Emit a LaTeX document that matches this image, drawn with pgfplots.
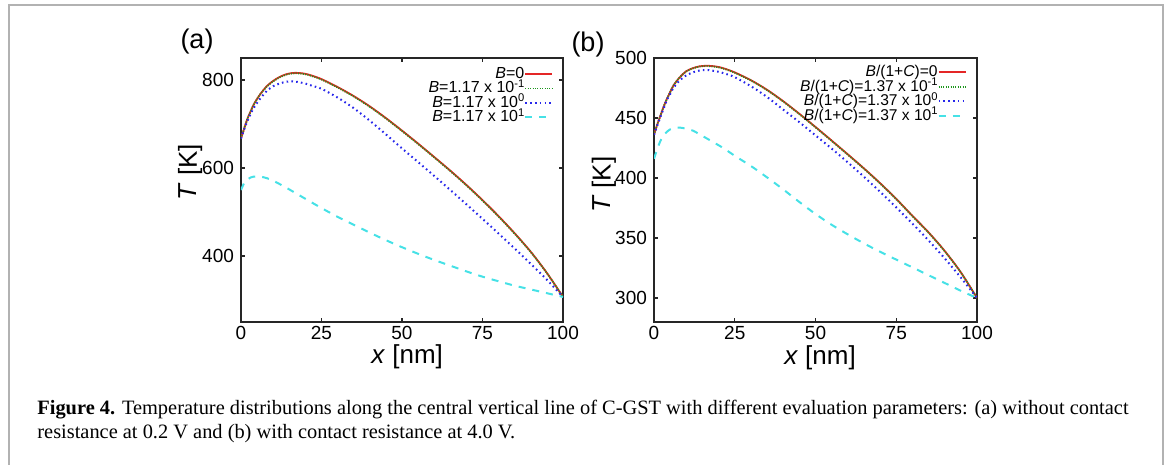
\documentclass[border=0pt]{standalone}
\usepackage{fontspec}
\setmainfont{Liberation Serif}
\setsansfont{Liberation Sans}
\usepackage{pgfplots}
\pgfplotsset{compat=1.18}
\usepackage{pgfplotstable}

\definecolor{gpred}{RGB}{228,38,38}
\definecolor{gpgreen}{RGB}{30,150,30}
\definecolor{gpblue}{RGB}{40,40,235}
\definecolor{gpcyan}{RGB}{70,225,230}

\newcommand{\supr}[1]{\raisebox{2.6pt}{\fontsize{5.6}{5.6}\selectfont #1}}

\pgfplotstableread{
x r g b c
0 667 667 667 550
1 690 690 688 566
2 712 712 707 574
3 729 729 723 578.5
4 745 745 737 580.5
5 757 757 748 581
6 768 768 758 580.5
8 786 785 775 577
10 798 797 786 571
12 807 806 792 563.5
14 813 812 796 555.5
16 816 815 797 547
18 816 815 795 538.5
20 814 813 792 530
22 810 809 787 521.5
25 802 801 780 509
30 784 783 760 489
35 763.5 762.5 736 471
40 740 739 707.5 453
45 713.5 712.5 676.5 436
50 685 684 644.5 420
55 655.5 654.5 613.5 405
60 625 624 582 391
65 594 593 550 378
70 561.5 560.5 517.5 365
75 527 526 484.5 353
80 490.5 489.5 451 342.5
85 451.5 450.5 417 332.5
90 409.5 408.8 382 324
95 361.5 361 346 315.5
100 307 307 307 307
}\dataA

\pgfplotstableread{
x r g b c
0 436 436 436 416
1 444.5 444.5 443.5 424
2 452 452 451 431
3 459.5 459.5 458 435.5
4 466 466 465 438.5
5 471.5 471.5 470 440.5
6 477 477 475 441.5
8 484 484 481.5 442
10 489 488.8 485.5 441
12 491.5 491.3 488 439.5
14 493 492.8 489.5 436.6
16 493.5 493.3 490 433.5
18 493.3 493 489.5 430.4
20 492.5 492.2 488.5 427.3
22 491 490.7 487 424
25 488 487.7 484 418.5
30 481.5 481.2 476.5 410
35 473.5 473.2 467.5 400.5
40 464 463.7 457 390.5
45 453.5 453.2 446.5 380
50 442.5 442.2 435.5 370
55 431.2 430.9 424.5 361
60 419.7 419.4 413 353
65 408 407.7 401 345.5
70 395.7 395.4 388.5 338.5
75 382.6 382.3 375.5 332
80 368.5 368.2 362 325.5
85 354.7 354.4 348 319
90 339.2 339 333 312.5
95 321.4 321.2 317 306
100 300 300 300 300
}\dataB

\pgfplotsset{
  gp/.style={
    scale only axis, height=132pt,
    xmin=0, xmax=100, xtick={0,25,50,75,100},
    tick align=inside, major tick length=2.2pt,
    axis line style={line width=0.6pt, black!85},
    every tick/.style={black!85, line width=0.6pt},
    tick label style={font=\fontsize{9.5}{9.5}\selectfont\sffamily},
    xticklabel style={yshift=1.5pt},
    /pgf/number format/assume math mode=true,
    legend cell align=right, legend plot pos=right,
    legend image code/.code={\draw[##1] (2.5pt,0pt) -- (16pt,0pt);},
    legend style={anchor=north east, draw=none, fill=none, inner sep=0pt, outer sep=0pt,
      row sep=0.05pt,
      nodes={inner sep=0pt, text height=5.7pt, text depth=1.5pt}},
  },
  pr/.style={gpred, line width=0.9pt, smooth},
  pg/.style={gpgreen, line width=0.9pt, dash pattern=on 0.5pt off 0.7pt, smooth},
  pb/.style={gpblue, line width=1pt, dash pattern=on 0.8pt off 1.6pt, smooth},
  pc/.style={gpcyan, line width=1pt, dash pattern=on 3.5pt off 3.5pt, smooth},
}
\newcommand{\lblfont}{\fontsize{13}{13}\selectfont\sffamily}

\begin{document}
\begin{tikzpicture}
\useasboundingbox (0,0) rectangle (584pt,232.5pt);
\draw[gray!60, line width=0.8pt] (4.5pt,-5pt) -- (4.5pt,230pt) -- (581.5pt,230pt) -- (581.5pt,-5pt);

\begin{axis}[gp, at={(120.5pt,71.5pt)}, anchor=south west, width=161pt,
  ymin=250, ymax=850, ytick={400,600,800},
  xlabel={\textit{x} [nm]}, ylabel={\textit{T} [K]},
  every axis x label/.style={at={(axis description cs:0.516,-0.13)}, anchor=center, font=\lblfont},
  every axis y label/.style={at={(axis description cs:-0.158,0.568)}, rotate=90, anchor=center, font=\lblfont},
  legend style={at={(axis description cs:0.970,0.967)}, font=\fontsize{8}{8}\selectfont\sffamily},
]
\addplot[pr] table[x=x,y=r]{\dataA};
\addlegendentry{\textit{B}=0}
\addplot[pg] table[x=x,y=g]{\dataA};
\addlegendentry{\textit{B}=1.17 x 10\supr{-1}}
\addplot[pb] table[x=x,y=b]{\dataA};
\addlegendentry{\textit{B}=1.17 x 10\supr{0}}
\addplot[pc] table[x=x,y=c]{\dataA};
\addlegendentry{\textit{B}=1.17 x 10\supr{1}}
\end{axis}

\begin{axis}[gp, at={(327pt,71.5pt)}, anchor=south west, width=161.5pt,
  ymin=280, ymax=500, ytick={300,350,400,450,500},
  xlabel={\textit{x} [nm]}, ylabel={\textit{T} [K]},
  every axis x label/.style={at={(axis description cs:0.514,-0.134)}, anchor=center, font=\lblfont},
  every axis y label/.style={at={(axis description cs:-0.155,0.52)}, rotate=90, anchor=center, font=\lblfont},
  legend style={at={(axis description cs:0.968,0.973)}, font=\fontsize{7.8}{7.8}\selectfont\sffamily},
]
\addplot[pr] table[x=x,y=r]{\dataB};
\addlegendentry{\textit{B}/(1+\textit{C})=0}
\addplot[pg] table[x=x,y=g]{\dataB};
\addlegendentry{\textit{B}/(1+\textit{C})=1.37 x 10\supr{-1}}
\addplot[pb] table[x=x,y=b]{\dataB};
\addlegendentry{\textit{B}/(1+\textit{C})=1.37 x 10\supr{0}}
\addplot[pc] table[x=x,y=c]{\dataB};
\addlegendentry{\textit{B}/(1+\textit{C})=1.37 x 10\supr{1}}
\end{axis}

\node[font=\fontsize{13.5}{13.5}\selectfont\sffamily] at (98.5pt,211.5pt) {(a)};
\node[font=\fontsize{13.5}{13.5}\selectfont\sffamily] at (294pt,210pt) {(b)};

\node[anchor=base west, inner sep=0pt, font=\fontsize{10.2}{11}\selectfont] at (18.5pt,25pt)
  {\textbf{Figure 4.} Temperature distributions along the central vertical line of C-GST with different evaluation parameters: (a) without contact};
\node[anchor=base west, inner sep=0pt, font=\fontsize{10.2}{11}\selectfont] at (18.5pt,13pt)
  {resistance at 0.2 V and (b) with contact resistance at 4.0 V.};
\end{tikzpicture}
\end{document}
